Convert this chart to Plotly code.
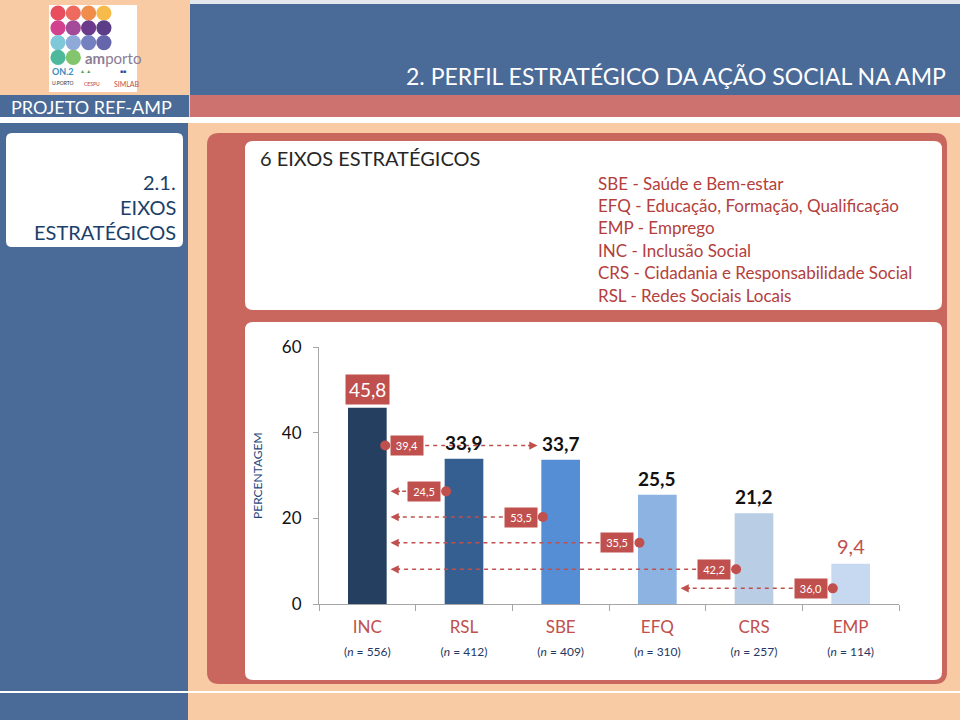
import plotly.graph_objects as go

# ---------------- data ----------------
categories = ["INC", "RSL", "SBE", "EFQ", "CRS", "EMP"]
percentages = [45.8, 33.9, 33.7, 25.5, 21.2, 9.4]
value_labels = ["45,8", "33,9", "33,7", "25,5", "21,2", "9,4"]
sample_sizes = ["556", "412", "409", "310", "257", "114"]

flow_from = ["INC", "RSL", "SBE", "EFQ", "CRS", "EMP"]
flow_to = ["SBE", "INC", "INC", "INC", "INC", "EFQ"]
flow_values = ["39,4", "24,5", "53,5", "35,5", "42,2", "36,0"]
flow_levels = [37.0, 26.3, 20.3, 14.3, 8.1, 3.65]

y_ticks = [0, 20, 40, 60]

legend_lines = [
    "SBE - Saúde e Bem-estar",
    "EFQ - Educação, Formação, Qualificação",
    "EMP - Emprego",
    "INC - Inclusão Social",
    "CRS - Cidadania e Responsabilidade Social",
    "RSL - Redes Sociais Locais",
]

# ---------------- styles ----------------
W, H = 960, 720
FONT = "Lato"
PEACH = "#F9CBA5"
BLUE = "#4A6A97"
SALMON = "#CD726E"
REDBOX = "#C9675E"
RED = "#C0504D"
NAVY = "#1B3F6B"
AXIS = "#A6A6A6"
bar_colors = ["#243F60", "#365F91", "#558ED5", "#8DB3E2", "#B9CDE5", "#C6D9F1"]


def X(px):
    return px / W


def Y(py):
    return 1 - py / H


shapes = []
annotations = []


def rect(x0, y0, x1, y1, color):
    shapes.append(dict(type="rect", xref="paper", yref="paper",
                       x0=X(x0), x1=X(x1), y0=Y(y1), y1=Y(y0),
                       fillcolor=color, line=dict(width=0), layer="below"))


def rrect(x0, y0, x1, y1, r, color):
    p = (f"M {X(x0 + r)},{Y(y0)} L {X(x1 - r)},{Y(y0)} "
         f"Q {X(x1)},{Y(y0)} {X(x1)},{Y(y0 + r)} L {X(x1)},{Y(y1 - r)} "
         f"Q {X(x1)},{Y(y1)} {X(x1 - r)},{Y(y1)} L {X(x0 + r)},{Y(y1)} "
         f"Q {X(x0)},{Y(y1)} {X(x0)},{Y(y1 - r)} L {X(x0)},{Y(y0 + r)} "
         f"Q {X(x0)},{Y(y0)} {X(x0 + r)},{Y(y0)} Z")
    shapes.append(dict(type="path", path=p, xref="paper", yref="paper",
                       fillcolor=color, line=dict(width=0), layer="below"))


def text(px, py, s, size, color, anchor="left", weight="normal", italic=False, angle=0, family=FONT):
    annotations.append(dict(xref="paper", yref="paper", x=X(px), y=Y(py), text=s,
                            showarrow=False, xanchor=anchor, yanchor="middle",
                            textangle=angle,
                            font=dict(family=family, size=size, color=color, weight=weight,
                                      style="italic" if italic else "normal")))


# ---------------- slide background ----------------
rect(190, 0, 960, 4, "#E4E8EE")
rect(190, 4, 960, 95, BLUE)
rect(190, 95, 960, 117, SALMON)
rect(0, 95, 189, 117, BLUE)
rect(0, 117, 960, 123, "#FFFFFF")
rect(0, 123, 188, 720, BLUE)
rect(0, 691, 960, 693, "#FFFFFF")
rrect(6, 133, 183, 247, 6, "#FFFFFF")
rrect(207, 133, 947, 684, 12, REDBOX)
rrect(245, 141, 942, 310, 8, "#FFFFFF")
rrect(245, 322, 942, 680, 8, "#FFFFFF")

# logo
rect(49, 5, 137, 92, "#FFFFFF")
logo_rows = [
    ["#E94E5E", "#EE6A5E", "#F08D4B", "#F7BB4B"],
    ["#D2418E", "#A34A98", "#6C3A8A", "#5B3D88"],
    ["#7FC8D9", "#8FAAD9", "#7480C0", "#6666AC"],
    ["#4DB89B", "#82C56C"],
]
for ri, row in enumerate(logo_rows):
    for ci, col in enumerate(row):
        cx, cy = 58 + ci * 15.3, 13 + ri * 14.8
        shapes.append(dict(type="circle", xref="paper", yref="paper",
                           x0=X(cx - 7.6), x1=X(cx + 7.6), y0=Y(cy + 7.6), y1=Y(cy - 7.6),
                           fillcolor=col, line=dict(width=0), layer="below"))
text(83, 58, "<b>am</b>porto", 15, "#8A7E96")
text(50, 72, "<b>ON.2</b>", 9, "#3C8DBF")
text(78, 71, "▲ ▲", 5, "#4FA24F")
text(118, 71, "■■", 5, "#2B4C9B")
text(50, 83, "U.PORTO", 5, "#333333")
text(82, 84, "CESPU", 5, "#C0392B")
text(112, 84, "SIMLAB", 7, "#C0504D")

# header texts
text(948, 76, "2. PERFIL ESTRATÉGICO DA AÇÃO SOCIAL NA AMP", 23, "#FFFFFF", anchor="right")
text(91, 107, "PROJETO REF-AMP", 18, "#FFFFFF", anchor="center")
text(178, 182, "2.1.", 20, NAVY, anchor="right")
text(178, 207, "EIXOS", 20, NAVY, anchor="right")
text(178, 232, "ESTRATÉGICOS", 20, NAVY, anchor="right")
text(258, 158, "6 EIXOS ESTRATÉGICOS", 20, "#262626")
for i, line in enumerate(legend_lines):
    text(596, 183 + i * 22.4, line, 17, "#B3403D")
text(257, 476, "PERCENTAGEM", 12, "#1F497D", anchor="center", angle=-90)

# ---------------- chart ----------------
xi = list(range(len(categories)))
fig = go.Figure()
fig.add_trace(go.Bar(x=xi, y=percentages, width=0.4, marker=dict(color=bar_colors, line=dict(width=0)),
                     hoverinfo="skip"))

idx = {c: i for i, c in enumerate(categories)}
for src, dst, lab, lvl in zip(flow_from, flow_to, flow_values, flow_levels):
    s, d = idx[src], idx[dst]
    sg = 1 if d > s else -1
    dot_x = s + 0.185 * sg
    tip_x = d - 0.24 * sg
    fig.add_trace(go.Scatter(x=[dot_x, tip_x - 0.06 * sg], y=[lvl, lvl], mode="lines",
                             line=dict(color=RED, width=1.5, dash="4px,4px"), hoverinfo="skip"))
    fig.add_trace(go.Scatter(x=[dot_x], y=[lvl], mode="markers",
                             marker=dict(color=RED, size=10, line=dict(width=0)), hoverinfo="skip"))
    annotations.append(dict(xref="x", yref="y", x=tip_x, y=lvl, ax=-11 * sg, ay=0,
                            text="", showarrow=True, arrowhead=2, arrowsize=1.1,
                            arrowwidth=1.5, arrowcolor=RED))
    annotations.append(dict(xref="x", yref="y", x=dot_x + 0.23 * sg, y=lvl, text=lab,
                            showarrow=False, bgcolor=RED, width=30, height=17,
                            font=dict(family=FONT, size=11, color="#FFFFFF")))

for i, (v, lab) in enumerate(zip(percentages, value_labels)):
    if i == 0:
        annotations.append(dict(xref="x", yref="y", x=i, y=v, text=lab, showarrow=False,
                                yanchor="bottom", yshift=3, bgcolor=RED, borderpad=3,
                                font=dict(family=FONT, size=19, color="#FFFFFF")))
    elif i == len(percentages) - 1:
        annotations.append(dict(xref="x", yref="y", x=i, y=v, text=lab, showarrow=False,
                                yanchor="bottom", yshift=4,
                                font=dict(family=FONT, size=20, color=RED)))
    else:
        annotations.append(dict(xref="x", yref="y", x=i, y=v, text=lab, showarrow=False,
                                yanchor="bottom", yshift=3,
                                font=dict(family=FONT, size=19, color="#111111", weight="bold")))

tick_text = [f"{c}<br><span style='font-size:12px;color:#1F3864'>(<i>n</i> = {n})</span>"
             for c, n in zip(categories, sample_sizes)]

fig.update_layout(
    width=W, height=H, autosize=False,
    margin=dict(l=0, r=0, t=0, b=0, pad=0, autoexpand=False),
    paper_bgcolor=PEACH, plot_bgcolor="rgba(0,0,0,0)",
    showlegend=False,
    shapes=shapes, annotations=annotations,
    xaxis=dict(domain=[X(319), X(899)], range=[-0.5, 5.5], tickmode="array",
               tickvals=xi, ticktext=tick_text, ticks="", showgrid=False, zeroline=False,
               showline=True, linecolor=AXIS, linewidth=1,
               tickfont=dict(family=FONT, size=17, color=RED),
               ticklabelstandoff=8,
               minor=dict(tickmode="linear", tick0=-0.5, dtick=1, ticks="outside",
                          ticklen=6, tickcolor=AXIS, showgrid=False),
               fixedrange=True),
    yaxis=dict(domain=[Y(604), Y(347)], range=[0, 60], tickmode="array", tickvals=y_ticks,
               ticks="outside", ticklen=5, tickcolor=AXIS, showgrid=False, zeroline=False,
               showline=True, linecolor=AXIS, linewidth=1,
               tickfont=dict(family=FONT, size=17, color="#111111"),
               ticklabelstandoff=8, fixedrange=True),
    bargap=0.6,
)

fig.write_html(
    "out.html",
    config={"responsive": False, "displayModeBar": False},
    post_script="document.body.style.margin='0px';document.body.style.overflow='hidden';",
)
